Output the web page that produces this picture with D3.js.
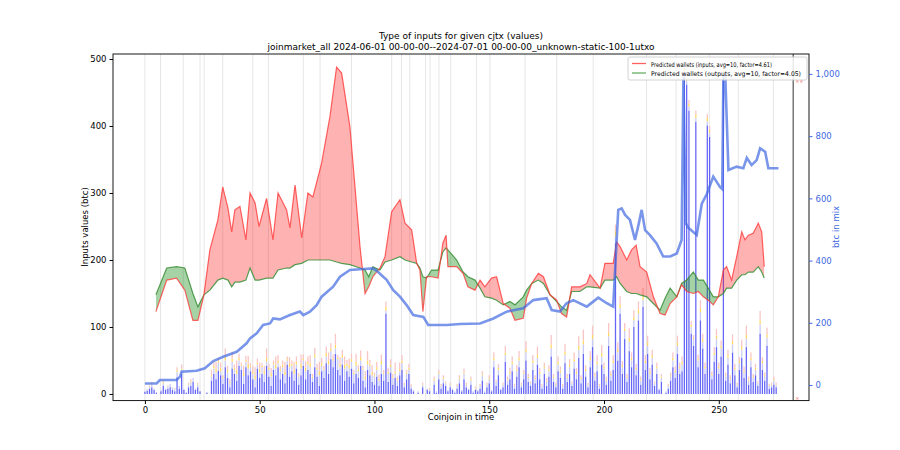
<!DOCTYPE html>
<html><head><meta charset="utf-8">
<script src="https://cdn.jsdelivr.net/npm/d3@7"></script>
<style>body{margin:0;background:#fff}text{font-family:"DejaVu Sans",sans-serif}</style>
</head><body><svg id="c" width="900" height="450"></svg>
<script>
const flowX=[4.8,9.5,13.8,17.4,20.9,23.1,25.7,28.3,31.8,33.9,36.2,37.8,39.2,41.4,44,45.8,48,49.7,53,55.8,58,61.7,63.2,65.4,68.3,71,73.2,77,80.6,83.5,85.7,89.3,93.7,95.9,97.5,99.3,102.4,104.6,107.5,111.1,113.3,116.2,118.4,119.8,121.1,122.7,124.9,127.7,129.8,131.2,132,135.8,138.6,140.7,143.8,146,148.1,151,153.2,156.1,159,161.2,164.8,166.3,168.5,171.4,173.6,176.5,179.4,181.5,183.7,185.9,189.5,192.5,193.9,198.3,200.4,204,205.5,207,209.9,212,214,215.7,218.6,221.5,224.4,226.6,228.8,231.7,233.8,236,238.9,241.1,243.3,245.4,247.6,249.8,252,253.4,255.6,257.8,260,261.4,262.9,265,267.2,268.7,269.8];
const inputsVals=[123,170,173,155,110,110,148,215,260,309,277,242,275,280,230,300,285,250,292,230,300,275,248,312,233,300,294,345,414,488,479,399,220,150,160,175,188,205,272,290,255,245,195,185,123,175,175,173,225,237,190,190,180,160,155,170,160,173,175,135,128,110,113,143,165,180,175,148,140,120,115,160,160,165,178,158,195,195,227,220,200,215,222,190,182,145,120,118,135,145,163,153,150,153,145,140,133,145,185,190,170,205,242,230,237,240,255,242,190];
const outputsVals=[148,188,190,188,150,130,148,155,170,173,170,160,167,167,170,188,170,170,173,173,185,188,188,193,195,200,200,200,200,197,195,193,188,185,175,190,185,197,200,205,200,197,195,188,175,173,185,185,212,218,215,200,182,175,170,158,145,143,140,133,138,133,145,155,165,170,165,148,138,130,125,153,153,160,160,158,170,170,175,165,153,150,150,148,145,135,125,143,158,145,165,170,182,170,170,158,145,145,150,158,158,170,178,178,182,182,190,182,173];
const mixX=[0,5.1,6.5,13.8,15.3,16,22.5,26.1,29.8,34.1,40,44.3,45.8,48.7,51.5,54.5,55.9,58.8,63.2,67.5,69,71.9,74.8,77,82,85,89.3,93.7,99.5,101,103.8,105.3,108.2,111.1,114,116.9,121.3,123.4,131.5,137.3,146,151.8,157.6,164.8,169.2,175,177.2,180.8,183.7,186.6,192.5,197.5,201.2,204,206.2,207.7,209.2,211.3,213.5,215,216.4,217.9,220,222.9,225.8,228.8,231.7,233.8,234.6,235.6,236.7,240.4,242.6,244.8,247.6,250.5,251.5,252,252.8,254.2,257.8,260.7,262.2,264.3,266.5,268,270.2,271.6,276];
const mixVals=[5,5,16,16,27,43,46,54,77,91,107,134,150,166,193,198,214,211,225,236,225,236,257,284,316,348,370,372,375,367,348,338,305,284,257,225,219,193,193,196,198,214,236,247,273,279,241,236,263,273,252,281,263,252,563,568,547,531,466,514,563,498,482,455,413,413,423,466,990,520,506,482,583,614,670,637,630,981,1000,691,702,697,730,707,723,761,750,697,697];
const barBlue=[3,5,8,10,6,2,0,4,12,6,8,10,6,4,25,8,30,6,2,10,12,18,6,10,4,0,0,2,0,20,30,22,35,28,15,40,24,10,38,30,20,42,36,15,40,28,34,22,10,38,24,30,18,42,26,12,36,28,40,22,30,16,44,26,34,20,38,14,28,42,22,36,30,18,40,26,12,34,24,46,30,52,40,60,36,28,44,20,34,26,38,16,30,24,42,20,10,36,28,18,14,26,12,30,20,120,18,32,14,24,12,28,36,10,22,30,8,4,0,2,0,10,0,6,4,0,14,2,22,8,16,12,4,10,6,2,8,16,4,22,10,6,14,2,6,4,8,20,2,10,16,4,40,12,28,6,10,48,14,22,34,8,26,40,10,22,50,18,12,36,16,44,22,8,30,12,26,56,18,10,34,24,8,46,18,30,12,38,22,54,16,60,26,10,40,70,20,34,8,44,30,14,72,20,36,225,50,120,30,82,18,64,40,100,28,110,14,130,36,60,22,44,12,30,6,18,0,2,8,20,40,24,60,30,34,474,462,423,90,72,406,40,110,68,30,401,384,22,48,70,30,56,474,20,44,16,62,28,10,36,54,24,70,14,40,18,28,12,90,36,20,72,8,10,14,10];
const barLight=[2,2,3,4,2,0,0,2,4,2,3,5,4,3,8,4,6,2,0,4,5,6,2,4,0,0,0,0,0,6,8,10,12,6,8,10,8,6,10,6,10,8,6,12,8,10,6,8,12,6,8,10,12,6,10,14,8,10,6,12,10,12,6,14,8,10,6,12,10,8,12,8,10,6,14,10,16,8,12,10,14,12,10,8,16,12,10,18,8,12,10,14,12,10,8,16,12,8,14,10,12,10,8,14,10,4,12,8,10,6,8,6,10,4,8,6,4,2,0,2,0,4,0,2,2,0,6,2,8,4,6,4,2,4,2,2,4,6,2,8,4,2,6,2,2,2,4,8,2,4,6,2,10,6,8,2,4,10,6,8,10,4,8,10,4,8,12,6,4,10,6,10,8,4,8,6,8,12,6,4,10,8,4,12,6,10,4,10,8,12,6,14,8,4,10,12,6,10,4,12,8,6,14,8,10,10,12,8,10,12,6,14,10,10,8,10,6,10,10,12,8,10,4,8,2,6,0,2,4,6,10,8,12,8,10,6,6,6,10,10,6,10,12,10,8,6,6,6,10,12,8,12,6,6,10,6,12,8,4,10,12,8,12,6,10,6,8,4,14,10,6,12,4,4,6,4];
const barYellow=[0,0,1,2,0,0,0,0,2,0,1,0,0,0,3,0,2,0,0,1,2,0,0,1,0,0,0,0,0,2,4,6,3,5,2,6,4,2,5,3,6,4,2,5,3,7,2,4,6,3,5,2,4,6,3,5,2,6,4,3,4,6,2,5,3,6,4,2,7,3,5,4,6,2,5,3,6,4,2,5,6,4,3,6,2,5,4,6,3,5,4,2,6,3,5,2,4,6,3,5,2,4,3,5,2,6,3,4,2,3,2,3,4,1,2,3,1,0,0,0,0,1,0,0,1,0,2,0,2,1,2,1,0,1,0,0,1,2,0,2,1,0,2,0,1,0,1,2,0,1,2,0,4,1,3,0,1,4,2,3,4,1,3,4,1,2,5,2,1,4,2,5,3,1,3,2,3,6,2,1,4,3,1,5,2,4,1,4,3,6,2,6,3,1,4,6,2,4,1,5,3,2,6,2,4,8,5,6,3,4,2,6,4,5,3,6,2,6,4,5,3,4,1,3,0,2,0,0,1,2,4,3,5,3,4,6,5,4,3,2,5,3,6,4,3,5,4,2,4,5,3,4,6,2,4,2,5,3,1,3,5,3,6,2,4,2,3,1,6,3,2,5,1,1,2,1];
const barPink=[0,0,1,2,0,0,0,0,2,0,1,0,0,2,4,0,6,0,0,2,3,0,0,2,0,0,0,0,0,8,6,10,4,8,3,12,6,4,10,5,14,6,3,10,6,12,4,8,12,6,10,4,8,14,6,8,4,12,8,5,6,14,4,10,5,12,8,3,14,6,10,8,12,4,10,6,14,8,4,10,12,8,6,16,4,10,8,12,6,10,8,4,12,6,10,4,8,14,6,10,4,8,6,10,4,8,6,8,4,14,4,10,8,2,4,6,2,0,0,0,0,2,0,0,2,0,4,0,4,2,4,2,0,2,0,0,2,4,0,6,2,0,4,0,2,0,2,4,0,2,4,0,8,2,6,0,2,10,4,6,8,2,6,10,2,4,12,4,2,8,4,12,6,2,6,4,6,14,4,2,8,6,2,12,4,8,2,10,6,14,4,16,6,2,10,14,4,10,2,12,6,4,14,4,8,10,10,12,6,8,4,14,8,10,6,12,4,12,8,10,6,8,2,6,0,4,0,0,2,4,8,6,10,6,8,6,6,6,6,4,6,6,12,8,6,6,6,4,8,10,6,8,6,4,8,4,10,6,2,6,10,6,14,4,8,4,6,2,14,6,4,10,2,2,4,2];
const gridX=[0,6.8,16.7,24,25.8,33.9,47,53.8,69,76.3,90,107.5,111.8,115.4,122.3,124.2,128.1,133.2,144.5,150.3,165.6,179.4,195.3,218.5,231.4,245.9,258.5,273.8];
const leftTicks=[0,100,200,300,400,500], rightTicks=[0,200,400,600,800,1000], xTicks=[0,50,100,150,200,250];
const markerX=282.4;

const svg=d3.select("#c");
const L=113,R=809,T=54,B=400.6;
const x=d3.scaleLinear().domain([-13.9,289.3]).range([L,R]);
const y=d3.scaleLinear().domain([-9.9,507.5]).range([B,T]);
const y2=d3.scaleLinear().domain([-50,1064]).range([B,T]);
svg.append("clipPath").attr("id","pc").append("rect").attr("x",L).attr("y",T).attr("width",R-L).attr("height",B-T);
const g=svg.append("g").attr("clip-path","url(#pc)");
g.selectAll(".gl").data(gridX).join("line").attr("x1",d=>x(d)).attr("x2",d=>x(d)).attr("y1",T).attr("y2",B).attr("stroke","#e6e6e6").attr("stroke-width",1);
g.append("line").attr("x1",x(markerX)).attr("x2",x(markerX)).attr("y1",T).attr("y2",B).attr("stroke","#333").attr("stroke-width",1);

const bw=x(0.55)-x(0);
const idx=d3.range(barBlue.length);
const layers=[[barBlue,"#4a4af5",0.85],[barLight,"#c8cbf6",1],[barYellow,"#ffd760",1],[barPink,"#f8c4c4",1]];
const base=idx.map(()=>0);
layers.forEach(([arr,col,op])=>{
  g.selectAll(null).data(idx.filter(i=>arr[i]>0)).join("rect")
   .attr("x",i=>x(i)-bw/2).attr("width",bw)
   .attr("y",i=>y(base[i]+arr[i])).attr("height",i=>y(base[i])-y(base[i]+arr[i]))
   .attr("fill",col).attr("opacity",op);
  idx.forEach(i=>base[i]+=arr[i]);
});

const pts=flowX.map((v,i)=>({x:v,a:inputsVals[i],b:outputsVals[i]}));
const defs=svg.append("defs");
defs.append("clipPath").attr("id","above").append("path").attr("d",d3.area().x(d=>x(d.x)).y0(T-10).y1(d=>y(d.b))(pts));
defs.append("clipPath").attr("id","below").append("path").attr("d",d3.area().x(d=>x(d.x)).y0(B+10).y1(d=>y(d.b))(pts));
const band=d3.area().x(d=>x(d.x)).y0(d=>y(d.b)).y1(d=>y(d.a))(pts);
g.append("g").attr("clip-path","url(#above)").append("path").attr("d",band).attr("fill","#ff0000").attr("opacity",0.3);
g.append("g").attr("clip-path","url(#below)").append("path").attr("d",band).attr("fill","#008000").attr("opacity",0.35);
g.append("path").attr("d",d3.line().x(d=>x(d.x)).y(d=>y(d.b))(pts)).attr("fill","none").attr("stroke","#2e8b2e").attr("stroke-width",1.2).attr("opacity",0.8);
g.append("path").attr("d",d3.line().x(d=>x(d.x)).y(d=>y(d.a))(pts)).attr("fill","none").attr("stroke","#ff3030").attr("stroke-width",1.2).attr("opacity",0.75);
const mp=mixX.map((v,i)=>[v,mixVals[i]]);
g.append("path").attr("d",d3.line().x(d=>x(d[0])).y(d=>y2(d[1]))(mp)).attr("fill","none").attr("stroke","royalblue").attr("stroke-width",2.6).attr("opacity",0.7);

svg.append("rect").attr("x",L).attr("y",T).attr("width",R-L).attr("height",B-T).attr("fill","none").attr("stroke","#000").attr("stroke-width",0.9);
const ax=svg.append("g").attr("transform",`translate(0,${B})`).call(d3.axisBottom(x).tickValues(xTicks).tickSize(3.5).tickPadding(3));
const ay=svg.append("g").attr("transform",`translate(${L},0)`).call(d3.axisLeft(y).tickValues(leftTicks).tickSize(3.5).tickPadding(3));
const ay2=svg.append("g").attr("transform",`translate(${R},0)`).call(d3.axisRight(y2).tickValues(rightTicks).tickSize(3.5).tickPadding(3));
[ax,ay,ay2].forEach(a=>{a.select(".domain").remove();a.selectAll("text").attr("font-size",8.5).attr("font-family","DejaVu Sans");});
ay2.selectAll("line").attr("stroke","royalblue");ay2.selectAll("text").attr("fill","royalblue");
svg.append("text").attr("x",x(markerX)+2).attr("y",T+29).attr("font-size",5).attr("fill","#f55").text("××");
svg.append("text").attr("x",x(markerX)+2).attr("y",B-1).attr("font-size",5).attr("fill","#f55").text("×");

svg.append("text").attr("x",461).attr("y",39).attr("text-anchor","middle").attr("font-size",9).text("Type of inputs for given cjtx (values)");
svg.append("text").attr("x",461).attr("y",50).attr("text-anchor","middle").attr("font-size",9).text("joinmarket_all 2024-06-01 00-00-00--2024-07-01 00-00-00_unknown-static-100-1utxo");
svg.append("text").attr("x",461).attr("y",420).attr("text-anchor","middle").attr("font-size",8.5).text("Coinjoin in time");
svg.append("text").attr("transform","translate(88,227) rotate(-90)").attr("text-anchor","middle").attr("font-size",8.5).text("Inputs values (btc)");
svg.append("text").attr("transform","translate(839,227) rotate(-90)").attr("text-anchor","middle").attr("font-size",8.5).attr("fill","royalblue").text("btc in mix");

const lg=svg.append("g").attr("transform","translate(628,57)");
lg.append("rect").attr("width",179).attr("height",23).attr("fill","#fff").attr("opacity",0.85).attr("stroke","#ccc").attr("rx",2);
[["Predicted wallets (inputs, avg=10, factor=4.61)","#ff6060",121],["Predicted wallets (outputs, avg=10, factor=4.05)","#66b066",150]].forEach((d,i)=>{
  lg.append("line").attr("x1",4).attr("x2",18).attr("y1",6.5+i*9.5).attr("y2",6.5+i*9.5).attr("stroke",d[1]).attr("stroke-width",1.3);
  lg.append("text").attr("x",23).attr("y",9.5+i*9.5).attr("font-size",6.4).attr("textLength",d[2]).attr("lengthAdjust","spacingAndGlyphs").text(d[0]);
});
</script></body></html>
